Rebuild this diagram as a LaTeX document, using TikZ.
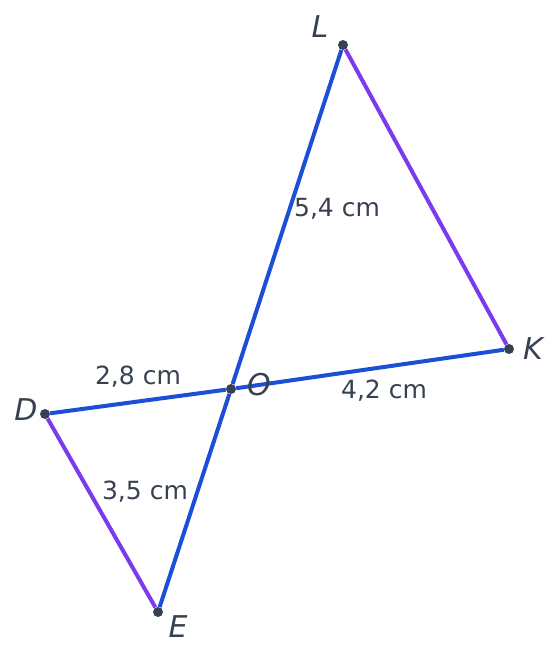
\documentclass[tikz,border=0pt]{standalone}
\usepackage{fontspec}
\setmainfont{DejaVu Sans}
\usepackage{tikz}
\definecolor{segblue}{HTML}{1D4ED8}
\definecolor{segpurple}{HTML}{7C3AED}
\definecolor{inkgray}{HTML}{374151}
\tikzstyle{node_point} = [circle, fill=inkgray, inner sep=0pt, minimum size=10pt]
\tikzstyle{node_label} = [text=inkgray, font=\fontsize{30}{32}\selectfont\itshape, inner sep=0pt]
\tikzstyle{node_measure} = [text=inkgray, font=\fontsize{25}{28}\selectfont, inner sep=0pt]
\tikzstyle{edge_main} = [segblue, line width=4pt]
\tikzstyle{edge_side} = [segpurple, line width=4pt]

\begin{document}
\begin{tikzpicture}[x=1pt, y=-1pt]
\useasboundingbox (0,0) rectangle (557,661);
\node (L) at (343,45) [node_point] {};
\node (K) at (509,349) [node_point] {};
\node (O) at (231,389) [node_point] {};
\node (D) at (45,414) [node_point] {};
\node (E) at (158,612) [node_point] {};

\draw[edge_main] (L)--(O)--(E);
\draw[edge_main] (D)--(O)--(K);
\draw[edge_side] (L)--(K);
\draw[edge_side] (D)--(E);

\node (lL) at (320,27) [node_label] {L};
\node (lK) at (533,349) [node_label] {K};
\node (lO) at (259,385) [node_label] {O};
\node (lD) at (26,410) [node_label] {D};
\node (lE) at (178,627) [node_label] {E};

\node (mLO) at (337,209) [node_measure] {5,4 cm};
\node (mDO) at (138,377) [node_measure] {2,8 cm};
\node (mOK) at (384,391) [node_measure] {4,2 cm};
\node (mOE) at (145,492) [node_measure] {3,5 cm};
\end{tikzpicture}
\end{document}
